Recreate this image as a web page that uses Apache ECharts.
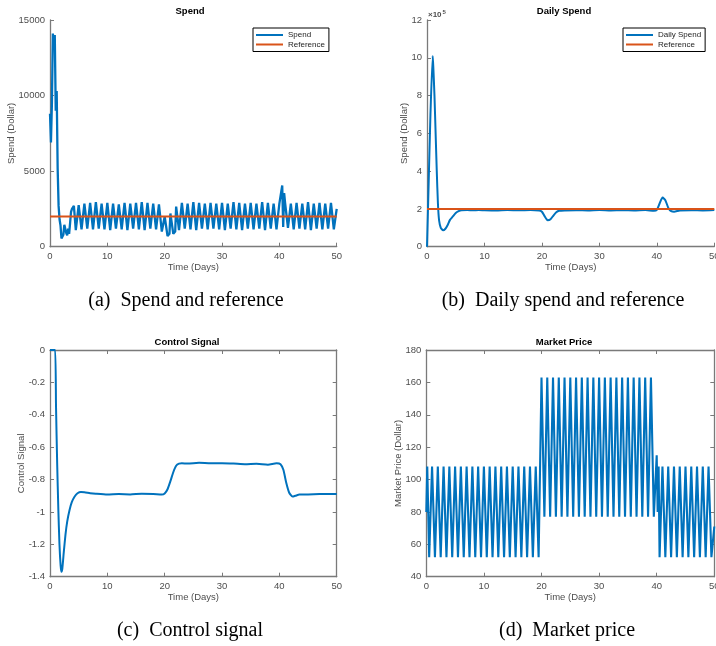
<!DOCTYPE html>
<html>
<head>
<meta charset="UTF-8">
<title>Spend control</title>
<script src="https://cdn.jsdelivr.net/npm/echarts@6/dist/echarts.min.js"></script>
<style>
  html, body { margin: 0; padding: 0; background: #fff; }
  #chart { width: 716px; height: 646px; }
</style>
</head>
<body>
<div id="chart"></div>
<script>
// spend and market price are sampled 6 times a day
var STEP = 1 / 6;

var dayTicks = [0, 10, 20, 30, 40, 50];
var spendTicks = [0, 5000, 10000, 15000];
var dailyTicks = [0, 200000, 400000, 600000, 800000, 1000000, 1200000];
var ctrlTicks = [-1.4, -1.2, -1, -0.8, -0.6, -0.4, -0.2, 0];
var priceTicks = [40, 60, 80, 100, 120, 140, 160, 180];

var spendRef = 2000;
var dailyRef = 200000;

// (a) spend, one line per day
var spend = [
  8800, 6900, 9500, 14100, 13300, 14000,
  9000, 10300, 5200, 2700, 1800, 1400,
  550, 450, 800, 1450, 1550, 900,
  750, 1200, 850, 1550, 2300, 2500,
  2500, 2700, 2600, 1100, 1050, 1150,
  2750, 2800, 2700, 1150, 1100, 1200,
  2850, 2800, 2750, 1200, 1150, 1250,
  2900, 2950, 2850, 1150, 1100, 1200,
  2950, 3000, 2900, 1200, 1150, 1250,
  2850, 2900, 2800, 1150, 1200, 1250,
  2900, 2950, 2850, 1100, 1150, 1200,
  2850, 2900, 2800, 1200, 1150, 1250,
  2800, 2850, 2750, 1150, 1200, 1250,
  2900, 2950, 2850, 1100, 1150, 1200,
  2850, 2900, 2800, 1200, 1150, 1250,
  2900, 2950, 2850, 1150, 1200, 1250,
  2950, 3000, 2900, 1100, 1150, 1200,
  2900, 2950, 2850, 1200, 1150, 1250,
  2850, 2900, 2800, 1150, 1100, 1200,
  2800, 2850, 2700, 1000, 950, 1050,
  2000, 2100, 1900, 700, 750, 850,
  2200, 2300, 2150, 850, 900, 1000,
  2650, 2750, 2650, 1100, 1150, 1200,
  2900, 2950, 2850, 1200, 1150, 1250,
  2850, 2900, 2800, 1150, 1200, 1250,
  2950, 3000, 2900, 1100, 1150, 1200,
  2900, 2950, 2850, 1200, 1150, 1250,
  2850, 2900, 2800, 1150, 1100, 1200,
  2900, 2950, 2850, 1200, 1150, 1250,
  2850, 2900, 2800, 1150, 1200, 1250,
  2900, 2950, 2850, 1100, 1150, 1200,
  2850, 2900, 2800, 1200, 1150, 1250,
  2950, 3000, 2900, 1150, 1200, 1250,
  2900, 2950, 2850, 1100, 1150, 1200,
  2850, 2900, 2800, 1200, 1150, 1250,
  2900, 2950, 2850, 1150, 1100, 1200,
  2850, 2900, 2800, 1200, 1150, 1250,
  2950, 3000, 2900, 1100, 1150, 1200,
  2900, 2950, 2850, 1200, 1150, 1250,
  2850, 2900, 2800, 1150, 1200, 1250,
  2850, 2900, 2800, 4050, 1300, 3550,
  2900, 2950, 2850, 1250, 1150, 1200,
  2850, 2900, 2800, 1150, 1100, 1200,
  2900, 2950, 2850, 1200, 1150, 1250,
  2850, 2900, 2800, 1150, 1200, 1250,
  2950, 3000, 2900, 1100, 1150, 1200,
  2850, 2900, 2800, 1200, 1150, 1250,
  2900, 2950, 2850, 1150, 1100, 1200,
  2850, 2900, 2800, 1200, 1150, 1250,
  2900, 2950, 2850, 1150, 1200, 1250,
  2500
];

// (b) daily spend
var dailyDays = [0, 0.3, 0.6, 1.0, 1.1, 1.3, 1.5, 1.7, 1.9, 2.1, 2.4, 2.8, 3.2, 3.6, 4.0, 4.5, 5.0, 5.5, 6.0,
  7, 8, 9, 10, 12, 14, 16, 18, 19.5, 20, 20.5, 21, 21.5, 22, 22.5, 23, 24, 26, 28, 30, 32, 34, 36, 38,
  39.5, 40, 40.5, 41, 41.5, 42, 42.5, 43, 44, 46, 48, 50];
var daily = [0, 350000, 700000, 1010000, 950000, 800000, 600000, 400000, 230000, 140000, 100000, 87000, 95000, 115000, 142000, 160000, 178000, 188000, 193000,
  194000, 193000, 194000, 193000, 192000, 194000, 193000, 194000, 192000, 185000, 160000, 140000, 145000, 165000, 182000, 190000, 192000, 193000, 192000, 194000, 192000, 193000, 192000, 194000,
  190000, 195000, 230000, 260000, 245000, 205000, 188000, 185000, 192000, 193000, 192000, 194000];

// (c) control signal
var ctrlDays = [0, 0.5, 0.9, 1.05, 1.25, 1.45, 1.65, 1.85, 2.0, 2.15, 2.4, 2.7, 3.0, 3.4, 3.8, 4.3, 4.8, 5.4, 6,
  7, 8, 10, 12, 14, 16, 18, 19.5, 20, 20.5, 21, 21.5, 22, 22.5, 23, 24, 26, 28, 30, 32, 34, 36, 38,
  39.5, 40.2, 40.7, 41.2, 41.7, 42.3, 42.8, 43.5, 45, 47, 50];
var ctrl = [0, 0, 0, -0.35, -0.7, -0.98, -1.2, -1.33, -1.37, -1.35, -1.25, -1.14, -1.06, -0.99, -0.94, -0.905, -0.885, -0.877, -0.878,
  -0.884, -0.888, -0.893, -0.89, -0.892, -0.888, -0.889, -0.893, -0.886, -0.86, -0.81, -0.755, -0.715, -0.702, -0.7, -0.701, -0.697, -0.7, -0.699, -0.701, -0.705, -0.702, -0.708,
  -0.7, -0.705, -0.74, -0.82, -0.88, -0.905, -0.9, -0.893, -0.892, -0.89, -0.889];

// (d) market price, one line per day
var price = [
  80, 108, 108, 52, 52, 52,
  108, 108, 108, 52, 52, 52,
  108, 108, 108, 52, 52, 52,
  108, 108, 108, 52, 52, 52,
  108, 108, 108, 52, 52, 52,
  108, 108, 108, 52, 52, 52,
  108, 108, 108, 52, 52, 52,
  108, 108, 108, 52, 52, 52,
  108, 108, 108, 52, 52, 52,
  108, 108, 108, 52, 52, 52,
  108, 108, 108, 52, 52, 52,
  108, 108, 108, 52, 52, 52,
  108, 108, 108, 52, 52, 52,
  108, 108, 108, 52, 52, 52,
  108, 108, 108, 52, 52, 52,
  108, 108, 108, 52, 52, 52,
  108, 108, 108, 52, 52, 52,
  108, 108, 108, 52, 52, 52,
  108, 108, 108, 52, 52, 52,
  108, 108, 108, 52, 52, 52,
  163, 163, 163, 77, 77, 77,
  163, 163, 163, 77, 77, 77,
  163, 163, 163, 77, 77, 77,
  163, 163, 163, 77, 77, 77,
  163, 163, 163, 77, 77, 77,
  163, 163, 163, 77, 77, 77,
  163, 163, 163, 77, 77, 77,
  163, 163, 163, 77, 77, 77,
  163, 163, 163, 77, 77, 77,
  163, 163, 163, 77, 77, 77,
  163, 163, 163, 77, 77, 77,
  163, 163, 163, 77, 77, 77,
  163, 163, 163, 77, 77, 77,
  163, 163, 163, 77, 77, 77,
  163, 163, 163, 77, 77, 77,
  163, 163, 163, 77, 77, 77,
  163, 163, 163, 77, 77, 77,
  163, 163, 163, 77, 77, 77,
  163, 163, 163, 77, 77, 77,
  163, 163, 163, 77, 77, 77,
  115, 80, 108, 52, 52, 52,
  108, 108, 108, 52, 52, 52,
  108, 108, 108, 52, 52, 52,
  108, 108, 108, 52, 52, 52,
  108, 108, 108, 52, 52, 52,
  108, 108, 108, 52, 52, 52,
  108, 108, 108, 52, 52, 52,
  108, 108, 108, 52, 52, 52,
  108, 108, 108, 52, 52, 52,
  108, 108, 108, 52, 52, 52,
  71
];

var BLUE = '#0072BD';
var ORANGE = '#D95319';
var AXIS = '#7a7a7a';
var LABEL = '#4d4d4d';
var FONT = 'Liberation Sans, Helvetica, Arial, sans-serif';

var chart = echarts.init(document.getElementById('chart'));

function sampled(values) {
  return values.map(function (v, i) { return [i * STEP, v]; });
}
function paired(xs, ys) {
  return xs.map(function (x, i) { return [x, ys[i]]; });
}

// one value axis; box axes (top / right) only carry ticks
function axis(gi, ticks, opts) {
  var a = {
    type: 'value',
    gridIndex: gi,
    min: ticks[0],
    max: ticks[ticks.length - 1],
    interval: ticks[1] - ticks[0],
    axisLine: { show: true, onZero: false, lineStyle: { color: AXIS, width: 1.3 } },
    axisTick: { show: true, inside: true, length: 4, lineStyle: { color: AXIS, width: 1 } },
    axisLabel: {
      color: LABEL, fontSize: 9.5, fontFamily: FONT, margin: 5,
      formatter: function (v) { return String(+v.toFixed(2)); }
    },
    splitLine: { show: false },
    nameLocation: 'middle',
    nameMoveOverlap: false,
    nameTextStyle: { color: LABEL, fontSize: 9.5, fontFamily: FONT }
  };
  return Object.assign(a, opts || {});
}
function boxAxis(gi, ticks, pos) {
  return axis(gi, ticks, { position: pos, axisLabel: { show: false } });
}

function title(text, x, y) {
  return {
    text: text, left: x, top: y, textAlign: 'center', padding: 0,
    textStyle: { fontSize: 9.5, fontWeight: 'bold', color: '#000', fontFamily: FONT }
  };
}
function caption(text, x, y) {
  return {
    text: text, left: x, top: y, textAlign: 'center', padding: 0,
    textStyle: { fontSize: 20, fontWeight: 'normal', color: '#000', fontFamily: 'Liberation Serif, Times New Roman, serif' }
  };
}
function legend(names, x) {
  return {
    data: names, left: x, top: 28, orient: 'vertical', icon: 'rect',
    backgroundColor: '#fff', borderColor: '#000', borderWidth: 1, borderRadius: 0,
    padding: [3, 4, 3, 3], itemWidth: 27, itemHeight: 2, itemGap: 1.5,
    textStyle: { fontSize: 8, color: '#222', fontFamily: FONT }
  };
}

var option = {
  animation: false,
  backgroundColor: '#fff',
  title: [
    title('Spend', 190, 6.5),
    title('Daily Spend', 564, 6.5),
    title('Control Signal', 187, 337.5),
    title('Market Price', 564, 337.5),
    {
      text: '{a|\u00d710}{b|5}', left: 428, top: 9, padding: 0,
      textStyle: { rich: {
        a: { fontSize: 8, color: LABEL, fontFamily: FONT },
        b: { fontSize: 6, color: LABEL, fontFamily: FONT, verticalAlign: 'top', padding: [0, 0, 5, 1] }
      } }
    },
    caption('(a)  Spend and reference', 186, 291),
    caption('(b)  Daily spend and reference', 563, 291),
    caption('(c)  Control signal', 190, 621),
    caption('(d)  Market price', 567, 621)
  ],
  legend: [
    legend(['Spend', 'Reference'], 253),
    legend(['Daily Spend', 'Reference'], 623)
  ],
  grid: [
    { left: 50, top: 20, width: 286.7, height: 226.7, outerBoundsMode: 'none' },
    { left: 427, top: 20, width: 287.3, height: 226.7, outerBoundsMode: 'none' },
    { left: 50, top: 350, width: 286.7, height: 226.7, outerBoundsMode: 'none' },
    { left: 426.3, top: 350, width: 288, height: 226.7, outerBoundsMode: 'none' }
  ],
  xAxis: [
    axis(0, dayTicks, { name: 'Time (Days)', nameGap: 16 }),
    axis(1, dayTicks, { name: 'Time (Days)', nameGap: 16 }),
    axis(2, dayTicks, { name: 'Time (Days)', nameGap: 16 }),
    axis(3, dayTicks, { name: 'Time (Days)', nameGap: 16 }),
    boxAxis(2, dayTicks, 'top'),
    boxAxis(3, dayTicks, 'top')
  ],
  yAxis: [
    axis(0, spendTicks, { name: 'Spend (Dollar)', nameGap: 34 }),
    axis(1, dailyTicks, { name: 'Spend (Dollar)', nameGap: 18,
      axisLabel: { color: LABEL, fontSize: 9.5, fontFamily: FONT, margin: 5,
        formatter: function (v) { return String(v / 100000); } } }),
    axis(2, ctrlTicks, { name: 'Control Signal', nameGap: 24 }),
    axis(3, priceTicks, { name: 'Market Price (Dollar)', nameGap: 23 }),
    boxAxis(2, ctrlTicks, 'right'),
    boxAxis(3, priceTicks, 'right')
  ],
  series: [
    {
      name: 'Spend', type: 'line', xAxisIndex: 0, yAxisIndex: 0,
      data: sampled(spend), symbol: 'none', color: BLUE,
      lineStyle: { width: 2.3, color: BLUE }
    },
    {
      name: 'Reference', type: 'line', xAxisIndex: 0, yAxisIndex: 0,
      data: [[dayTicks[0], spendRef], [dayTicks[dayTicks.length - 1], spendRef]],
      symbol: 'none', color: ORANGE, lineStyle: { width: 2, color: ORANGE }
    },
    {
      name: 'Daily Spend', type: 'line', xAxisIndex: 1, yAxisIndex: 1,
      data: paired(dailyDays, daily), symbol: 'none', color: BLUE,
      smooth: 0.2, lineStyle: { width: 2, color: BLUE }
    },
    {
      name: 'Reference', type: 'line', xAxisIndex: 1, yAxisIndex: 1,
      data: [[dayTicks[0], dailyRef], [dayTicks[dayTicks.length - 1], dailyRef]],
      symbol: 'none', color: ORANGE, lineStyle: { width: 2, color: ORANGE }
    },
    {
      name: 'Control Signal', type: 'line', xAxisIndex: 2, yAxisIndex: 2,
      data: paired(ctrlDays, ctrl), symbol: 'none', color: BLUE,
      smooth: 0.2, lineStyle: { width: 2, color: BLUE }
    },
    {
      name: 'Market Price', type: 'line', xAxisIndex: 3, yAxisIndex: 3,
      data: sampled(price), symbol: 'none', color: BLUE,
      lineStyle: { width: 2.1, color: BLUE }
    }
  ]
};

chart.setOption(option);
</script>
</body>
</html>
